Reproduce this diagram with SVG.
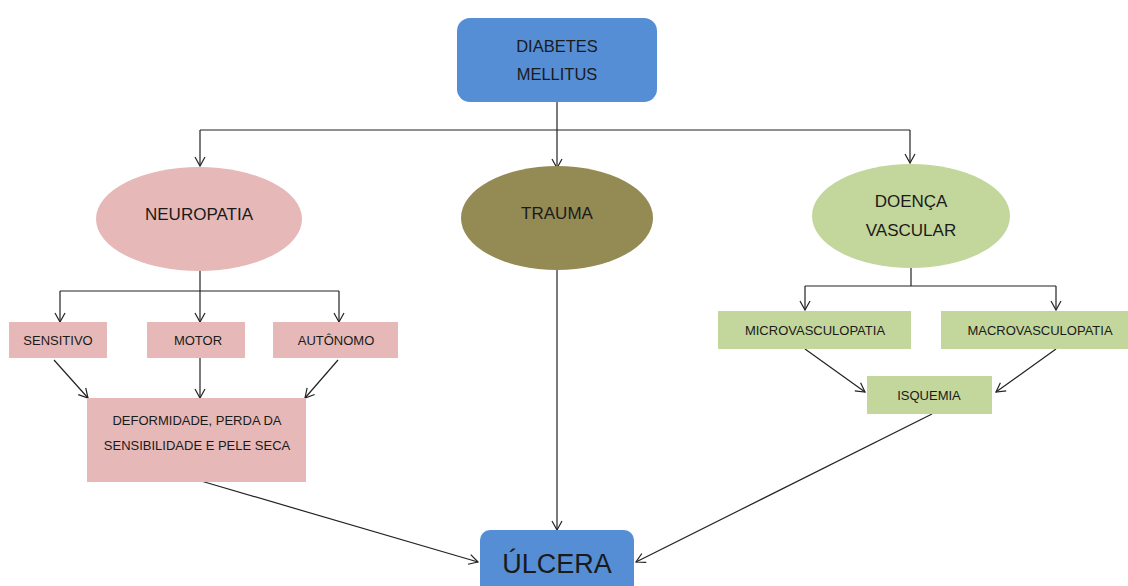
<svg xmlns="http://www.w3.org/2000/svg" width="1128" height="586" viewBox="0 0 1128 586">
<defs>
<marker id="arr" markerWidth="12" markerHeight="12" refX="10" refY="6" orient="auto" markerUnits="userSpaceOnUse">
<polyline points="1,1 10,6 1,11" fill="none" stroke="#222" stroke-width="1.2"/>
</marker>
<style>
text{font-family:"Liberation Sans",Arial,sans-serif;fill:#1a1a1a;text-anchor:middle}
.c{fill:none;stroke:#222;stroke-width:1.2}
.pink{fill:#e6b9b8}
.green{fill:#c3d69b}
.blue{fill:#558ed5}
.s13{font-size:13px}
.s17{font-size:17px}
</style>
</defs>
<rect width="1128" height="586" fill="#ffffff"/>
<g id="connectors">
<polyline class="c" points="557,102 557,130"/>
<polyline class="c" points="200,130 910,130"/>
<line class="c" x1="200" y1="130" x2="200" y2="166" marker-end="url(#arr)"/>
<line class="c" x1="910" y1="130" x2="910" y2="163" marker-end="url(#arr)"/>
<line class="c" x1="557" y1="130" x2="557" y2="168" marker-end="url(#arr)"/>
<polyline class="c" points="200,270 200,291"/>
<polyline class="c" points="60,291 339,291"/>
<line class="c" x1="60" y1="291" x2="60" y2="322" marker-end="url(#arr)"/>
<line class="c" x1="200" y1="291" x2="200" y2="322" marker-end="url(#arr)"/>
<line class="c" x1="339" y1="291" x2="339" y2="322" marker-end="url(#arr)"/>
<line class="c" x1="54" y1="360" x2="88" y2="398" marker-end="url(#arr)"/>
<line class="c" x1="200" y1="358" x2="200" y2="398" marker-end="url(#arr)"/>
<line class="c" x1="338" y1="360" x2="305" y2="398" marker-end="url(#arr)"/>
<line class="c" x1="557" y1="270" x2="557" y2="530" marker-end="url(#arr)"/>
<line class="c" x1="201" y1="481" x2="478" y2="562" marker-end="url(#arr)"/>
<polyline class="c" points="911,268 911,286"/>
<polyline class="c" points="805,286 1056,286"/>
<line class="c" x1="805" y1="286" x2="805" y2="310" marker-end="url(#arr)"/>
<line class="c" x1="1056" y1="286" x2="1056" y2="310" marker-end="url(#arr)"/>
<line class="c" x1="805" y1="349" x2="865" y2="392" marker-end="url(#arr)"/>
<line class="c" x1="1056" y1="349" x2="996" y2="392" marker-end="url(#arr)"/>
<line class="c" x1="932" y1="414" x2="636" y2="562" marker-end="url(#arr)"/>
</g>
<g id="diabetes">
<rect class="blue" x="457" y="18" width="200" height="84" rx="13"/>
<text x="557" y="52" font-size="16.5">DIABETES</text>
<text x="557" y="80" font-size="16.5">MELLITUS</text>
</g>
<g id="neuropatia">
<ellipse class="pink" cx="199" cy="219" rx="103" ry="52"/>
<text class="s17" x="199" y="220">NEUROPATIA</text>
</g>
<g id="trauma">
<ellipse cx="557" cy="218" rx="96" ry="52" fill="#948a54"/>
<text class="s17" x="557" y="219">TRAUMA</text>
</g>
<g id="doenca">
<ellipse class="green" cx="911" cy="216" rx="99" ry="52"/>
<text class="s17" x="911" y="207">DOENÇA</text>
<text class="s17" x="911" y="236">VASCULAR</text>
</g>
<g id="sensitivo">
<rect class="pink" x="9" y="322" width="98" height="36"/>
<text class="s13" x="58" y="345">SENSITIVO</text>
</g>
<g id="motor">
<rect class="pink" x="147" y="322" width="98" height="36"/>
<text class="s13" x="198" y="345">MOTOR</text>
</g>
<g id="autonomo">
<rect class="pink" x="273" y="322" width="125" height="36"/>
<text class="s13" x="336" y="345">AUTÔNOMO</text>
</g>
<g id="deformidade">
<rect class="pink" x="87" y="398" width="219" height="84"/>
<text class="s13" x="197" y="425">DEFORMIDADE, PERDA DA</text>
<text class="s13" x="197" y="450">SENSIBILIDADE E PELE SECA</text>
</g>
<g id="micro">
<rect class="green" x="718" y="311" width="193" height="38"/>
<text class="s13" x="815" y="335">MICROVASCULOPATIA</text>
</g>
<g id="macro">
<rect class="green" x="941" y="311" width="187" height="38"/>
<text class="s13" x="1040" y="335">MACROVASCULOPATIA</text>
</g>
<g id="isquemia">
<rect class="green" x="867" y="376" width="125" height="38"/>
<text class="s13" x="929" y="400">ISQUEMIA</text>
</g>
<g id="ulcera">
<rect class="blue" x="480" y="530" width="154" height="70" rx="10"/>
<text x="557" y="573" font-size="27">ÚLCERA</text>
</g>
</svg>
